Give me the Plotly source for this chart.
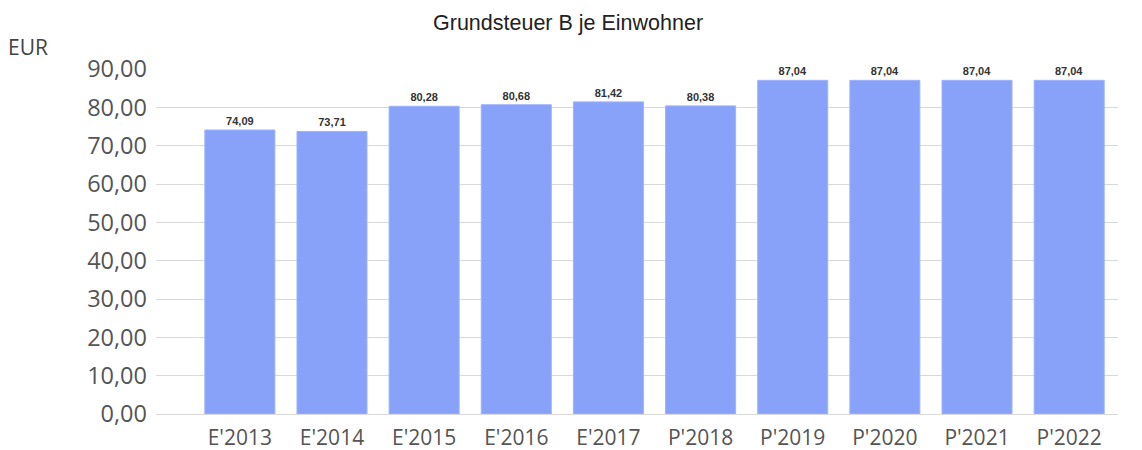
import plotly.graph_objects as go

categories = ["E'2013", "E'2014", "E'2015", "E'2016", "E'2017", "P'2018", "P'2019", "P'2020", "P'2021", "P'2022"]
values = [74.09, 73.71, 80.28, 80.68, 81.42, 80.38, 87.04, 87.04, 87.04, 87.04]
y_ticks = [0, 10, 20, 30, 40, 50, 60, 70, 80, 90]

fig = go.Figure(go.Bar(
    x=categories, y=values,
    marker=dict(color="#87A2F8", line=dict(color="#9DB3FA", width=1)),
    width=0.76,
    text=values, texttemplate="<b>%{y:.2f}</b>", textposition="outside",
    textfont=dict(family="Liberation Sans, Arial", size=11, color="#333333"),
    cliponaxis=False,
))

# page has an 8px body margin, so the figure is drawn 8px smaller and offset
fig.update_layout(
    width=1134, height=442,
    margin=dict(l=148, r=24, t=61, b=36, autoexpand=False),
    plot_bgcolor="white", paper_bgcolor="white",
    separators=",.",
    showlegend=False,
    xaxis=dict(range=[-0.91, 9.53], showgrid=False, showline=True, linecolor="#D9D9D9", linewidth=1,
               ticks="", automargin=False, ticklabelstandoff=5,
               tickfont=dict(family="Open Sans", size=21, color="#555555")),
    yaxis=dict(range=[0, 90], tickvals=y_ticks, tickformat=".2f", showgrid=True, gridcolor="#D9D9D9",
               gridwidth=1, zeroline=False, ticks="", automargin=False, ticklabelstandoff=8,
               tickfont=dict(family="Open Sans", size=23.5, color="#555555")),
    annotations=[
        dict(text="Grundsteuer B je Einwohner", xref="paper", yref="paper",
             x=(568 - 156) / 962, y=(414 - 23) / 345, xanchor="center", yanchor="middle",
             showarrow=False, font=dict(family="Liberation Sans, Arial", size=21.5, color="#222222")),
        dict(text="EUR", xref="paper", yref="paper", x=(6 - 156) / 962, y=(414 - 47) / 345,
             xanchor="left", yanchor="middle", showarrow=False,
             font=dict(family="Open Sans", size=21, color="#444444")),
    ],
)

fig.write_html("out.html")
